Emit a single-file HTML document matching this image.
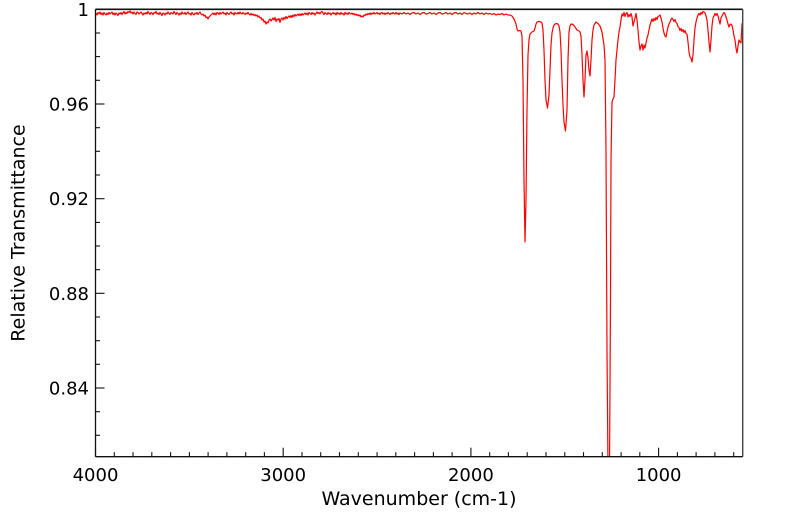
<!DOCTYPE html>
<html>
<head>
<meta charset="utf-8">
<style>
html,body{margin:0;padding:0;background:#fff;}
svg{display:block;}
text{font-family:"DejaVu Sans","Liberation Sans",sans-serif;fill:#000;}
</style>
</head>
<body>
<svg width="799" height="516" viewBox="0 0 799 516" xmlns="http://www.w3.org/2000/svg">
<defs>
<clipPath id="pc"><rect x="95.5" y="9.3" width="647.2" height="447.4"/></clipPath>
</defs>
<rect x="0" y="0" width="799" height="516" fill="#fff"/>

<g clip-path="url(#pc)">
<polyline fill="none" stroke="#ff0000" stroke-width="1.2" stroke-linejoin="round" points="
96,13 97,15 98,12.5 99,14 100,12 101,14.5 102,13 103,15 104,12.5 105,14 106,15 107,13 108,14.5 109,12.5 110,14 111,13 112,12 113,14.5 114,13 115,15 116,13 117,14 118,15.5 119,13 120,14 121,12.5 122,14.5 123,13 124,11.5 125,14 126,12.5 127,13.5 128,11.5 129,12.5 130,11 131,13 132,12 133,14 134,12 135,13.5 136,14.5 137,12 138,12.5 139,14 140,13 141,12 142,13.5 143,15 144,13 145,14 146,12.5 147,14 148,11.5 149,13 150,14.5 151,12.5 152,13 153,14.5 154,12.5 155,13 156,11.5 157,14 158,13 159,14.5 160,12.5 161,14 162,15.5 163,13 164,13.5 165,15 166,13 167,14 168,12 169,13.5 170,14.5 171,12.5 172,13 173,14 174,11.5 175,13 176,14.5 177,12.5 178,13.5 179,15 180,13 181,14.5 182,12 183,13.5 184,14 185,12.5 186,14.5 187,13 188,12 189,14 190,13.5 191,15 192,12.5 193,14 194,15 195,13 196,14 197,12.5 198,14.5 199,13 200,12 201,14 202,15 203,14 204,16 205,15 206,17.5 207,17 208,19 209,17 210,16 211,15 212,14 213,13 214,14.5 215,13 216,15 217,12.5 218,13 219,14.5 220,12.5 221,14 222,13 223,12 224,14 225,13 226,15 227,12.5 228,13.5 229,14.5 230,13 231,12 232,14 233,13 234,15 235,12.5 236,13.5 237,14 238,12.5 239,14 240,12 241,13.5 242,14 243,12.5 244,13.5 245,14.5 246,13 247,14 248,12.5 249,14 250,15 251,13.5 252,15 253,14 254,15.5 255,14.5 256,16 257,15 258,17 259,16 260,18 261,17.5 262,20 263,19 264,22 265,21 266,24 267,22 268,23 269,20 270,19 271,21 272,19.5 273,18 274,20 275,17.5 276,21.5 277,19 278,20 279,18.5 280,22.5 281,19 282,18 283,20 284,17.5 285,19 286,16.5 287,18.5 288,17 289,16 290,17.5 291,15.5 292,17.5 293,15 294,16.5 295,14.5 296,16 297,15 298,14 299,15.5 300,14 301,15.5 302,13.5 303,15 304,14 305,13 306,14.5 307,13 308,15 309,12.5 310,13.5 311,14.5 312,12.5 313,14 314,13 315,15 316,13.5 317,12 318,13.5 319,12.5 320,14 321,12 322,11.5 323,13 324,14.5 325,12.5 326,13.5 327,14.5 328,12.5 329,14 330,13 331,15 332,13.5 333,12.5 334,14 335,13 336,15 337,12.5 338,14 339,13 340,14.5 341,12.5 342,14 343,13.5 344,15 345,12.5 346,14 347,13 348,14.5 349,12.5 350,13.5 351,14 352,13 353,14.5 354,13.5 355,15 356,14 357,15.5 358,14.5 359,16 360,15 361,17 362,16 363,17 364,15 365,15.5 366,14 367,15 368,13.5 369,14.5 370,13 371,14.5 372,13 373,14 374,12.5 375,14 376,13.5 377,12.5 378,14 379,13 380,14.5 381,13 382,12.5 383,14 384,13 385,14.5 386,13 387,14 388,12.5 389,13.5 390,14.5 391,13 392,14 393,12.5 394,13.5 395,14 396,12.5 397,14 398,13 399,14.5 400,13 402,14 404,12.5 406,14 408,13 410,14.5 412,13 414,12.5 416,14 418,13 420,14.5 422,13 424,12.5 426,14 428,13.5 430,12.5 432,14 434,13 436,14.5 438,13 440,12.5 442,14 444,13.5 446,12.5 448,14 450,13 452,14.5 454,13 456,12.5 458,14 460,13 462,14.5 464,12.5 466,13.5 468,14 470,13 472,14.5 474,13 476,14 478,12.5 480,14 482,13 484,14.5 486,13 488,14 490,13.5 492,14.5 494,13.5 496,15 498,14 500,14.5 502,13.5 504,15 506,14 508,15 510,15 512,16
514,19 516,24 517,29 518,31 520,30.5 521,31 522,36 523,80 524,180 525,242 526,200 527,110 528,55 529,40 530,34 532,32 534,31 535,28 536,24 537,22 539,21.5 541,22 542,23 543,30 544,50 545,80 546,100 547.5,108 549,95 550,70 551,45 552,33 553,28 554,25 556,23.5 558,24 559,26 560,32 561,50 562,80 563,105 564,122 565.5,131 567,110 568,60 569,32 570,26 571,24 573,24.5 575,27 577,30 579,31 580,32 581,36 582,55 583,80 584,97 585,80 586,55 587,51 588,58 589,70 590,76 591,60 592,40 593,30 594,25 596,22 598,23.5 600,26 602,32 604,45 605,60 606,150 607,350 608,470 609.5,470 610.5,300 611,160 612,102 613,99 614,97 615,80 616,60 617,50 618,40 619,32 620,27 621,20 622,14 623,16 624,12.5 625,16.5 626,13.5 627,12.5 628,17 629,14.5 630,16.5 631,13.5 632,17 633,26 634,22 635,18 636,13.5 637,20 638,30 639,42 640,50 641,46 642,44 643,50 644,45 645,48 646,43 647,38 648,35 649,30 650,25 651,22 652,19 653,21.5 654,18.5 655,20.5 656,17.5 657,19.5 658,16.5 659,16 660,15 661,18 662,22 663,28 664,33 665,36 666,37 667,32 668,27 669,24 670,22 671,19.5 672,18 673,19.5 674,21.5 675,19.5 676,22.5 677,23.5 678,26.5 679,27.5 680,30.5 681,28.5 682,31.5 683,29.5 684,32.5 685,30.5 686,33.5 687,34 688,42 689,52 690,57 691,58 692,62 693,55 694,40 695,28 696,22 697,18 698,15 699,13.5 700,15 701,12.5 702,14 703,11.5 704,12 705,13 706,16 707,20 708,30 709,42 710,52 711,40 712,26 713,18 714,16 715,13.5 716,15.5 717,13.5 718,16 719,20 720,24 721,18 722,16 723,14 724,12.5 725,14 726,17 727,20 728,24 729,27 730,24.5 731,24 732,25.5 733,30 734,36 735,40 736,48 737,53 738,46 739,40 740,42 741,43 742,24 743,22"/>
</g>

<!-- frame -->
<line x1="95.5" y1="9.3" x2="742.7" y2="9.3" stroke="#111" stroke-width="1.6"/>
<line x1="742.7" y1="9.3" x2="742.7" y2="456.7" stroke="#444" stroke-width="1.4"/>
<line x1="95.5" y1="9.3" x2="95.5" y2="456.7" stroke="#111" stroke-width="1.3"/>
<line x1="95.5" y1="456.7" x2="742.7" y2="456.7" stroke="#111" stroke-width="1.3"/>

<!-- x ticks -->
<g stroke="#111" stroke-width="1.1">
<line x1="95.5" y1="456.7" x2="95.5" y2="447.7"/>
<line x1="283.2" y1="456.7" x2="283.2" y2="447.7"/>
<line x1="470.9" y1="456.7" x2="470.9" y2="447.7"/>
<line x1="658.6" y1="456.7" x2="658.6" y2="447.7"/>
<line x1="114.3" y1="456.7" x2="114.3" y2="452.2"/>
<line x1="133.0" y1="456.7" x2="133.0" y2="452.2"/>
<line x1="151.8" y1="456.7" x2="151.8" y2="452.2"/>
<line x1="170.6" y1="456.7" x2="170.6" y2="452.2"/>
<line x1="189.4" y1="456.7" x2="189.4" y2="452.2"/>
<line x1="208.1" y1="456.7" x2="208.1" y2="452.2"/>
<line x1="226.9" y1="456.7" x2="226.9" y2="452.2"/>
<line x1="245.7" y1="456.7" x2="245.7" y2="452.2"/>
<line x1="264.4" y1="456.7" x2="264.4" y2="452.2"/>
<line x1="302.0" y1="456.7" x2="302.0" y2="452.2"/>
<line x1="320.7" y1="456.7" x2="320.7" y2="452.2"/>
<line x1="339.5" y1="456.7" x2="339.5" y2="452.2"/>
<line x1="358.3" y1="456.7" x2="358.3" y2="452.2"/>
<line x1="377.1" y1="456.7" x2="377.1" y2="452.2"/>
<line x1="395.8" y1="456.7" x2="395.8" y2="452.2"/>
<line x1="414.6" y1="456.7" x2="414.6" y2="452.2"/>
<line x1="433.4" y1="456.7" x2="433.4" y2="452.2"/>
<line x1="452.1" y1="456.7" x2="452.1" y2="452.2"/>
<line x1="489.7" y1="456.7" x2="489.7" y2="452.2"/>
<line x1="508.4" y1="456.7" x2="508.4" y2="452.2"/>
<line x1="527.2" y1="456.7" x2="527.2" y2="452.2"/>
<line x1="546.0" y1="456.7" x2="546.0" y2="452.2"/>
<line x1="564.8" y1="456.7" x2="564.8" y2="452.2"/>
<line x1="583.5" y1="456.7" x2="583.5" y2="452.2"/>
<line x1="602.3" y1="456.7" x2="602.3" y2="452.2"/>
<line x1="621.1" y1="456.7" x2="621.1" y2="452.2"/>
<line x1="639.8" y1="456.7" x2="639.8" y2="452.2"/>
<line x1="677.4" y1="456.7" x2="677.4" y2="452.2"/>
<line x1="696.1" y1="456.7" x2="696.1" y2="452.2"/>
<line x1="714.9" y1="456.7" x2="714.9" y2="452.2"/>
<line x1="733.7" y1="456.7" x2="733.7" y2="452.2"/>
</g>

<!-- y ticks -->
<g stroke="#111" stroke-width="1.1">
<line x1="95.5" y1="9.3" x2="104.5" y2="9.3"/>
<line x1="95.5" y1="104" x2="104.5" y2="104"/>
<line x1="95.5" y1="198.7" x2="104.5" y2="198.7"/>
<line x1="95.5" y1="293.3" x2="104.5" y2="293.3"/>
<line x1="95.5" y1="388" x2="104.5" y2="388"/>
<line x1="95.5" y1="33" x2="100" y2="33"/>
<line x1="95.5" y1="56.6" x2="100" y2="56.6"/>
<line x1="95.5" y1="80.3" x2="100" y2="80.3"/>
<line x1="95.5" y1="127.7" x2="100" y2="127.7"/>
<line x1="95.5" y1="151.3" x2="100" y2="151.3"/>
<line x1="95.5" y1="175" x2="100" y2="175"/>
<line x1="95.5" y1="222.4" x2="100" y2="222.4"/>
<line x1="95.5" y1="246" x2="100" y2="246"/>
<line x1="95.5" y1="269.7" x2="100" y2="269.7"/>
<line x1="95.5" y1="317" x2="100" y2="317"/>
<line x1="95.5" y1="340.7" x2="100" y2="340.7"/>
<line x1="95.5" y1="364.3" x2="100" y2="364.3"/>
<line x1="95.5" y1="411.7" x2="100" y2="411.7"/>
<line x1="95.5" y1="435.3" x2="100" y2="435.3"/>
</g>

<!-- x labels -->
<g font-size="18" text-anchor="middle">
<text x="95.5" y="481">4000</text>
<text x="283.2" y="481">3000</text>
<text x="470.9" y="481">2000</text>
<text x="658.6" y="481">1000</text>
</g>
<text x="419" y="505" font-size="19" text-anchor="middle">Wavenumber (cm-1)</text>

<!-- y labels -->
<g font-size="18" text-anchor="end">
<text x="89" y="15.8">1</text>
<text x="89" y="110.5">0.96</text>
<text x="89" y="205.2">0.92</text>
<text x="89" y="299.8">0.88</text>
<text x="89" y="394.5">0.84</text>
</g>
<text x="0" y="0" font-size="19" text-anchor="middle" transform="translate(24.5,233) rotate(-90)">Relative Transmittance</text>
</svg>
</body>
</html>
